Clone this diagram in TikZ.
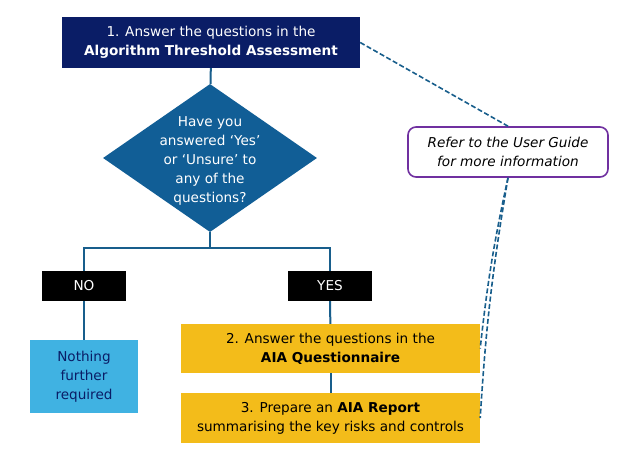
\documentclass[tikz,border=0pt]{standalone}
\usepackage{fontspec}
\setmainfont{DejaVu Sans}
\usetikzlibrary{shapes.geometric}
\definecolor{navy}{RGB}{10,29,102}
\definecolor{qblue}{RGB}{17,94,150}
\definecolor{lblue}{RGB}{64,178,226}
\definecolor{gold}{RGB}{243,188,26}
\definecolor{linec}{RGB}{24,94,140}
\definecolor{purp}{RGB}{112,48,160}
\tikzset{
  box/.style={draw=none, inner sep=0pt, align=center, font=\fontsize{13.6}{18.8}\selectfont},
  flow/.style={draw=linec, line width=2pt},
  guide/.style={draw=linec, line width=1.6pt, dash pattern=on 5pt off 2.5pt},
  tag/.style={box, fill=black, text=white, minimum width=84pt, minimum height=30pt},
}
\begin{document}
\begin{tikzpicture}[x=1pt,y=-1pt]
\useasboundingbox (0,0) rectangle (630,456);
\fill[white] (0,0) rectangle (630,456);
% top box
\node[box, fill=navy, text=white, minimum width=298pt, minimum height=51pt] (top) at (211,42.5)
  {1. Answer the questions in the\\\textbf{Algorithm Threshold Assessment}};
% diamond
\node[diamond, fill=qblue, draw=none, inner sep=0pt, minimum width=214pt, minimum height=148pt, aspect=1.45] (q) at (210,158) {};
\node[box, text=white] (qt) at (210,161) {Have you\\answered ‘Yes’\\or ‘Unsure’ to\\any of the\\questions?};
\coordinate (split) at (210,248);
% tags
\node[tag] (no) at (84,286) {NO};
\node[tag] (yes) at (330,286) {YES};
% boxes
\node[box, fill=lblue, text=navy, minimum width=108pt, minimum height=73pt] (nothing) at (84,376.5) {Nothing\\further\\required};
\node[box, fill=gold, text=black, minimum width=299pt, minimum height=49pt] (b2) at (330.5,348.5) {2. Answer the questions in the\\\textbf{AIA Questionnaire}};
\node[box, fill=gold, text=black, minimum width=299pt, minimum height=50pt] (b3) at (330.5,418) {3. Prepare an \textbf{AIA Report}\\summarising the key risks and controls};
% note
\node[box, draw=purp, line width=1.6pt, rounded corners=8pt, fill=white, minimum width=200pt, minimum height=50pt, font=\itshape\fontsize{13.6}{18.8}\selectfont] (note) at (508,152) {Refer to the User Guide\\for more information};
% connectors
\draw[flow] (top) -- (q);
\draw[flow] (q.south) -- (split);
\draw[flow] (no.north) |- (split) -| (yes.north);
\draw[flow] (no) -- (nothing);
\draw[flow] (yes) -- (b2);
\draw[flow] (b2) -- (b3);
\draw[guide] (top.east) -- (note.north);
\draw[guide] (note.south) to[bend right=3] (b2.east);
\draw[guide] (note.south) to[bend right=3] (b3.east);
\end{tikzpicture}
\end{document}
